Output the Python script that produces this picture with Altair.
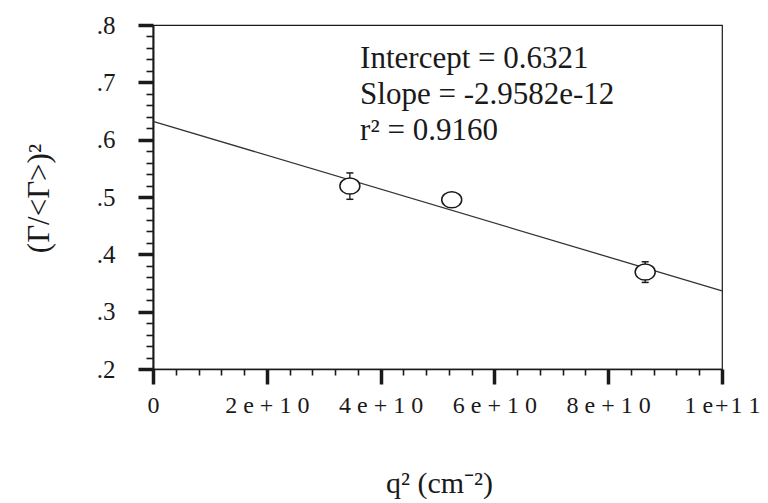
import json
import altair as alt
import pandas as pd

# ---- data ----
q2 = [3.46e10, 5.25e10, 8.65e10]
ratio = [0.519, 0.495, 0.369]
err = [0.023, 0.005, 0.018]

intercept = 0.6321
slope = -2.9582e-12
fit_x = [0.0, 1e11]

annotation = ["Intercept = 0.6321", "Slope = -2.9582e-12", "r\u00b2 = 0.9160"]
ann_x = [3.64e10]
ann_y = [0.7247]

y_ticks = [round(0.2 + 0.02 * i, 2) for i in range(31)]
x_ticks = [i * 4e9 for i in range(26)]
x_tick_labels = ["0", "2 e + 1 0", "4 e + 1 0", "6 e + 1 0", "8 e + 1 0",
                 "1 e\u200a+\u200a1 1"]

FONT = "Liberation Serif"
INK = "#1a1a1a"

pts = pd.DataFrame({"q2": q2, "y": ratio, "lo": [r - e for r, e in zip(ratio, err)],
                    "hi": [r + e for r, e in zip(ratio, err)]})
caps = pd.DataFrame({"q2": q2 + q2, "y": list(pts["lo"]) + list(pts["hi"])})
fit = pd.DataFrame({"q2": fit_x, "y": [intercept + slope * v for v in fit_x]})
ann = pd.DataFrame({"q2": ann_x, "y": ann_y, "t": [annotation]})

xscale = alt.Scale(domain=[0, 1e11], nice=False, zero=False)
yscale = alt.Scale(domain=[0.2, 0.8], nice=False, zero=False)

major_y = "abs(datum.value*10 - round(datum.value*10)) < 0.001"
major_x = "abs(datum.value/2e10 - round(datum.value/2e10)) < 0.001"

y_axis = alt.Axis(
    values=y_ticks,
    labelExpr=f"({major_y}) ? replace(format(datum.value, '.1f'), '0.', '.') : ''",
    tickSize=15,
    tickDash={"condition": {"test": major_y, "value": [1, 0]}, "value": [7, 40]},
    tickWidth={"condition": {"test": major_y, "value": 3.5}, "value": 1.6},
    tickColor=INK, domainColor=INK, domainWidth=2,
    labelFont=FONT, labelFontSize=25, labelColor=INK, labelPadding=23,
    labelOverlap=False, labelBound=False, labelFlush=False, grid=False,
    title="(\u0393/<\u0393>)\u00b2", titleFont=FONT, titleFontSize=31,
    titleFontWeight="normal", titleColor=INK,
    titleX=-105, titleY=173, titleAlign="center", titleBaseline="alphabetic",
)

x_axis = alt.Axis(
    values=x_ticks,
    labelExpr=f"({major_x}) ? {json.dumps(x_tick_labels)}[round(datum.value/2e10)] : ''",
    tickSize=15,
    tickDash={"condition": {"test": major_x, "value": [1, 0]}, "value": [6, 40]},
    tickWidth={"condition": {"test": major_x, "value": 3.5}, "value": 1.6},
    tickColor=INK, domainColor=INK, domainWidth=1.5,
    labelFont=FONT, labelFontSize=24, labelColor=INK, labelPadding=28,
    labelBaseline="alphabetic",
    labelOverlap=False, labelBound=False, labelFlush=False, grid=False,
    title="q\u00b2 (cm\u207b\u00b2)", titleFont=FONT, titleFontSize=30,
    titleFontWeight="normal", titleColor=INK,
    titleX=286, titleY=123, titleAlign="center", titleBaseline="alphabetic",
)

X = alt.X("q2:Q", scale=xscale, axis=x_axis)
Y = alt.Y("y:Q", scale=yscale, axis=y_axis)

line = alt.Chart(fit).mark_line(color="#333", strokeWidth=1.3).encode(x=X, y=Y)

bars = alt.Chart(pts).mark_rule(color=INK, strokeWidth=1.3).encode(
    x=X,
    y=alt.Y("lo:Q", scale=yscale, axis=y_axis),
    y2="hi:Q",
)

cap = alt.Chart(caps).mark_tick(orient="horizontal", size=7, thickness=1.5, color=INK, opacity=1).encode(
    x=X, y=Y,
)

ellipse = "M-1,0A1,0.8,0,1,0,1,0A1,0.8,0,1,0,-1,0Z"
points = alt.Chart(pts).mark_point(shape=ellipse, size=400, filled=False, fill="white",
                                   stroke=INK, strokeWidth=1.5, opacity=1, fillOpacity=1).encode(
    x=X, y=Y,
)

text = alt.Chart(ann).mark_text(align="left", baseline="alphabetic", font=FONT, fontSize=31,
                                lineHeight=36, color=INK).encode(
    x=X, y=Y, text="t",
)

chart = alt.layer(line, bars, cap, points, text).properties(
    width=569, height=344,
    autosize=alt.AutoSizeParams(type="none"),
    padding={"left": 145, "top": 17, "right": 38, "bottom": 132},
    background="white",
).configure_view(stroke=INK, strokeWidth=1.2)

chart.save("out.html", embed_options={"renderer": "svg", "actions": False})
